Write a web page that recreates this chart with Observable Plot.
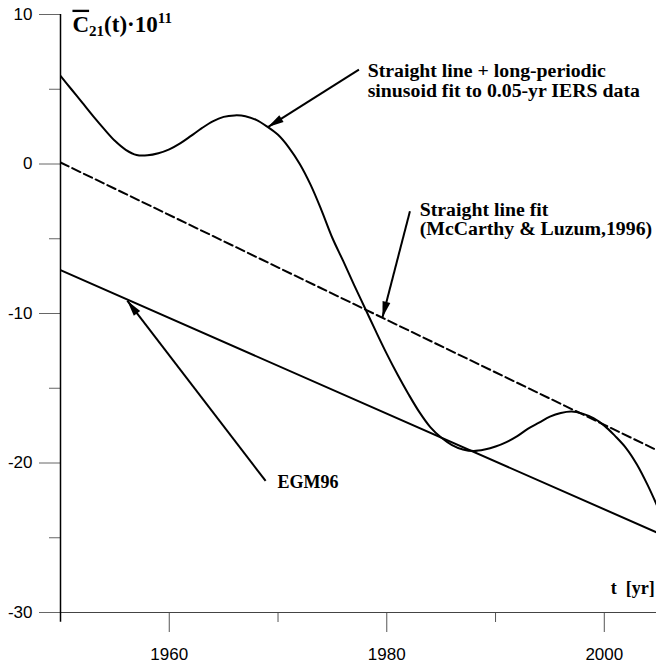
<!DOCTYPE html>
<html>
<head>
<meta charset="utf-8">
<script src="https://cdn.jsdelivr.net/npm/d3@7"></script>
<script src="https://cdn.jsdelivr.net/npm/@observablehq/plot@0.6"></script>
<style>
  html, body { margin: 0; padding: 0; background: #fff; }
</style>
</head>
<body>
<div id="chart"></div>
<script>
// ---- data ----
const years = [1950,1951,1952,1953,1954,1955,1956,1957,1958,1959,
  1960,1961,1962,1963,1964,1965,1966,1967,1968,1969,
  1970,1971,1972,1973,1974,1975,1976,1977,1978,1979,
  1980,1981,1982,1983,1984,1985,1986,1987,1988,1989,
  1990,1991,1992,1993,1994,1995,1996,1997,1998,1999,
  2000,2001,2002,2003,2004,2005];
const sinusoidFit = [5.9,5.0,4.1,3.2,2.35,1.55,0.95,0.6,0.58,0.72,
  0.98,1.38,1.88,2.4,2.85,3.15,3.25,3.2,2.95,2.5,
  1.95,1.1,0.0,-1.4,-3.1,-4.95,-6.5,-8.1,-9.65,-11.2,
  -12.7,-14.1,-15.4,-16.6,-17.6,-18.3,-18.8,-19.1,-19.2,-19.1,
  -18.9,-18.6,-18.2,-17.7,-17.3,-16.9,-16.65,-16.55,-16.7,-17.0,
  -17.5,-18.2,-19.0,-20.1,-21.5,-23.1];
const lineYears = [1950, 2005];
const mcCarthyLuzum = [0.1, -19.2];
const egm96 = [-7.1, -24.7];

const yMajorTicks = [-30, -20, -10, 0, 10];
const yMinorTicks = [-25, -15, -5, 5];
const xMajorTicks = [1960, 1980, 2000];
const xMinorTicks = [1970, 1990];

const bigLabels = [
  {t: 1978.24, v: 6.75, text: "Straight line + long-periodic\nsinusoid fit to 0.05-yr IERS data"},
  {t: 1983.03, v: -2.51, text: "Straight line fit\n(McCarthy & Luzum,1996)"}
];
const smallLabels = [
  {t: 1969.96, v: -20.8, text: "EGM96"},
  {t: 2000.6, v: -27.9, text: "t  [yr]"}
];
const arrows = [
  {t1: 1977.44, v1: 6.31, t2: 1969.07, v2: 2.47},
  {t1: 1982.13, v1: -3.16, t2: 1979.6, v2: -10.26},
  {t1: 1968.86, v1: -21.2, t2: 1956.14, v2: -9.14}
];

// ---- tables ----
const curve = years.map((t, i) => ({t, v: sinusoidFit[i]}));
const dashed = lineYears.map((t, i) => ({t, v: mcCarthyLuzum[i]}));
const egm = lineYears.map((t, i) => ({t, v: egm96[i]}));

const serif = "'Liberation Serif', 'Times New Roman', serif";
const sans = "'Liberation Sans', Arial, sans-serif";

// narrow filled arrowhead; tip at the symbol origin, pointing to +x
const arrowHead = {
  draw(context) {
    context.moveTo(0, 0);
    context.lineTo(-16, -4);
    context.lineTo(-16, 4);
    context.closePath();
  }
};

function makePlot(heads) {
  return Plot.plot({
    width: 656,
    height: 664,
    marginLeft: 60,
    marginRight: 0,
    marginTop: 14,
    marginBottom: 52,
    style: {fontFamily: sans, fontSize: "17px", background: "#fff", color: "#000"},
    x: {domain: [1950, 2004.8]},
    y: {domain: [-30, 10]},
    marks: [
      Plot.axisY(yMajorTicks, {tickSize: 21, tickPadding: 7, fontSize: 17, stroke: "#666", label: null, tickFormat: d => String(d)}),
      Plot.axisY(yMinorTicks, {tickSize: 11, text: null, stroke: "#666", label: null}),
      Plot.axisX(xMajorTicks, {tickSize: 20, tickPadding: 15, fontSize: 17, stroke: "#555", label: null, tickFormat: d => String(d)}),
      Plot.axisX(xMinorTicks, {tickSize: 10, text: null, stroke: "#555", label: null}),
      Plot.ruleY([-30], {x1: 1950, x2: 2004.8, stroke: "#444", strokeWidth: 1.2}),
      Plot.ruleX([1950], {y1: -30.65, y2: 10, stroke: "#000", strokeWidth: 1.5}),
      Plot.line(dashed, {x: "t", y: "v", stroke: "#000", strokeWidth: 2, strokeDasharray: "9,4", clip: true}),
      Plot.line(egm, {x: "t", y: "v", stroke: "#000", strokeWidth: 2, clip: true}),
      Plot.line(curve, {x: "t", y: "v", stroke: "#000", strokeWidth: 2, curve: "catmull-rom", clip: true}),
      Plot.link(arrows, {x1: "t1", y1: "v1", x2: "t2", y2: "v2", stroke: "#000", strokeWidth: 2}),
      heads ? Plot.dot(heads, {x: "t2", y: "v2", rotate: "angle", symbol: arrowHead, fill: "#000", stroke: null}) : null,
      Plot.text(bigLabels, {x: "t", y: "v", text: "text", textAnchor: "start", lineAnchor: "top", lineHeight: 1.0,
        fontFamily: serif, fontWeight: "bold", fontSize: 19.8, fill: "#000"}),
      Plot.text(smallLabels, {x: "t", y: "v", text: "text", textAnchor: "start", lineAnchor: "top",
        fontFamily: serif, fontWeight: "bold", fontSize: 18, fill: "#000"}),
      Plot.text([{t: 1951.1, v: 9.94}], {x: "t", y: "v", text: () => "C21(t)·1011", textAnchor: "start", lineAnchor: "top",
        fontFamily: serif, fontWeight: "bold", fontSize: 23, fill: "#000"})
    ]
  });
}

// first pass to get the scales, then compute arrowhead angles in screen space
const probe = makePlot(null);
const sx = probe.scale("x"), sy = probe.scale("y");
const heads = arrows.map(a => {
  const dx = sx.apply(a.t2) - sx.apply(a.t1);
  const dy = sy.apply(a.v2) - sy.apply(a.v1);
  return {...a, angle: Math.atan2(dy, dx) * 180 / Math.PI};
});
const plot = makePlot(heads);

// rebuild the axis title with overline, subscript and superscript
const t = d3.select(plot).selectAll("text").filter(function() { return this.textContent === "C21(t)·1011"; });
t.text(null);
t.append("tspan").attr("text-decoration", "overline").text("C");
t.append("tspan").attr("font-size", 15).attr("dy", "4").text("21");
t.append("tspan").attr("dy", "-4").text("(t)\u00B710");
t.append("tspan").attr("font-size", 15).attr("dy", "-9").text("11");

document.getElementById("chart").appendChild(plot);
</script>
</body>
</html>
